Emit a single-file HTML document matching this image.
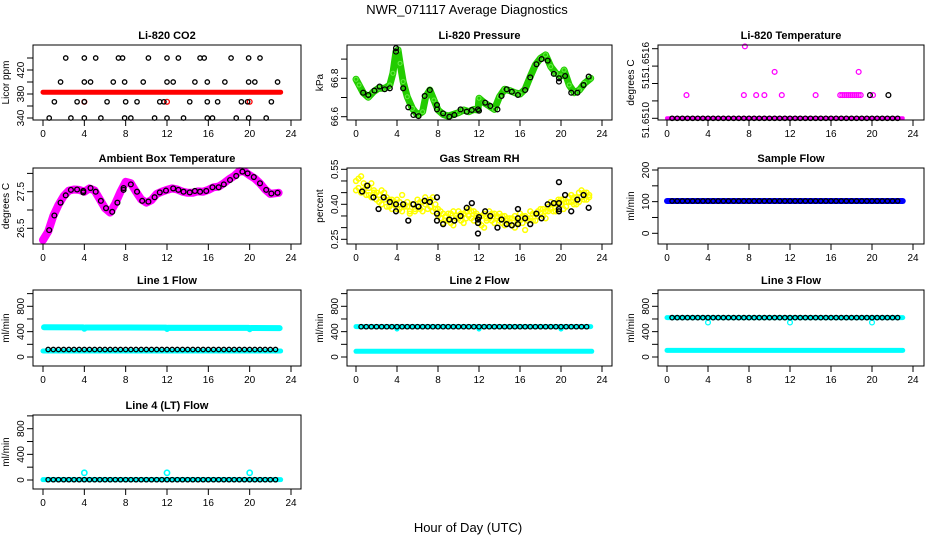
<!DOCTYPE html>
<html><head><meta charset="utf-8"><style>
html,body{margin:0;padding:0;background:#fff;}
svg{display:block;font-family:"Liberation Sans",sans-serif;}
</style></head><body>
<svg id="chart" width="936" height="540" viewBox="0 0 936 540" xmlns="http://www.w3.org/2000/svg">
<rect width="936" height="540" fill="#fff"/>
<text x="467" y="14" font-size="13" text-anchor="middle">NWR_071117  Average Diagnostics</text>
<text x="468" y="532" font-size="13" text-anchor="middle">Hour of Day (UTC)</text>
</svg>
<script>
// ---- data ----
const xTicks = [0,4,8,12,16,20,24];
const blackHours = [0.5,1,1.5,2,2.5,3,3.5,4,4.5,5,5.5,6,6.5,7,7.5,8,8.5,9,9.5,10,10.5,11,11.5,12,12.5,13,13.5,14,14.5,15,15.5,16,16.5,17,17.5,18,18.5,19,19.5,20,20.5,21,21.5,22,22.5];

// CO2
const co2BandHours = [0,23];
const co2BandVals = [383,383];
const co2RedHours = [4,12,20];
const co2RedVals = [367,367,367];
const co2BlackHours = [2.2,4,5.1,7.3,7.7,10.2,12,13.1,15.2,15.6,18.2,19.9,21, 1.7,4,4.6,6.8,7.9,9.7,12,12.6,14.7,15.9,17.6,19.9,20.5,22.7, 1.1,3.3,4,6.2,8,9.1,11.3,11.7,14.2,15.9,16.9,19.2,19.8,22.1, 0.6,2.7,4,5.6,7.9,8.5,10.8,12,13.6,15.9,16.4,18.7,19.9,21.6];
const co2BlackVals = [440,440,440,440,440,440,440,440,440,440,440,440,440, 400,400,400,400,400,400,400,400,400,400,400,400,400,400, 367,367,367,367,367,367,367,367,367,367,367,367,367,367, 340,340,340,340,340,340,340,340,340,340,340,340,340,340];

// Pressure
const presHours = [0,0.3,0.7,1.2,1.7,2.2,2.8,3.3,3.6,3.9,4.1,4.3,4.6,5.0,5.5,6.0,6.5,6.8,7.2,7.6,8.0,8.5,9.0,10,10.5,11,11.5,11.9,12,12.5,13,13.5,14,14.5,15,15.5,16,16.5,17,17.5,18,18.5,19,19.5,20,20.3,20.8,21.3,21.8,22.3,22.9];
const presVals = [66.795,66.765,66.725,66.701,66.730,66.748,66.748,66.765,66.826,66.939,66.948,66.878,66.783,66.704,66.643,66.609,66.626,66.704,66.739,66.687,66.635,66.612,66.603,66.621,66.635,66.626,66.638,66.635,66.696,66.673,66.656,66.638,66.704,66.743,66.736,66.725,66.718,66.743,66.809,66.870,66.904,66.922,66.861,66.826,66.812,66.843,66.765,66.725,66.739,66.774,66.800];
const presBlackHours = [0.7,1.2,1.8,2.3,2.8,3.3,3.9,3.9,4.6,5.1,5.6,6.1,6.7,7.2,7.9,7.9,8.5,9.1,9.6,10.2,10.8,11.3,11.9,12,12.6,13.1,13.8,14.2,14.7,15.2,15.8,16.5,17,17.6,18.1,18.7,19.3,19.8,19.8,20.4,21,21.6,22.2,22.7];
const presBlackVals = [66.725,66.713,66.736,66.757,66.743,66.748,66.939,66.957,66.748,66.649,66.609,66.603,66.708,66.739,66.661,66.638,66.617,66.600,66.609,66.638,66.626,66.635,66.638,66.631,66.673,66.656,66.638,66.708,66.743,66.730,66.713,66.739,66.805,66.873,66.900,66.892,66.823,66.800,66.783,66.812,66.725,66.725,66.765,66.809];

// Li-820 temperature
const tempBandHours = [0,23];
const tempBandVals = [51.6510,51.6510];
const tempMagHours = [1.9,7.5,8.7,9.5,11.2,14.5,16.9,17.1,17.3,17.5,17.7,17.9,18.1,18.3,18.5,18.7,18.9,20.1,10.5,18.7,7.6];
const tempMagVals = [51.6512,51.6512,51.6512,51.6512,51.6512,51.6512,51.6512,51.6512,51.6512,51.6512,51.6512,51.6512,51.6512,51.6512,51.6512,51.6512,51.6512,51.6512,51.6514,51.6514,51.65162];
const tempBlackExtraHours = [19.8,21.6];
const tempBlackExtraVals = [51.6512,51.6512];
const tempBlackVals = blackHours.map(()=>51.6510);

// Ambient box temperature
const ambHours = [0,0.5,1,1.5,2,2.5,3,3.5,4,4.5,5,5.5,6,6.5,7,7.5,8,8.5,9,9.5,10,10.5,11,11.5,12,12.5,13,13.5,14,14.5,15,15.5,16,16.5,17,17.5,18,18.5,19,19.5,20,20.5,21,21.5,22,22.8];
const ambVals = [26.18,26.41,26.84,27.14,27.38,27.53,27.56,27.55,27.50,27.59,27.53,27.29,27.05,26.93,27.18,27.50,27.77,27.73,27.50,27.29,27.20,27.27,27.44,27.50,27.55,27.59,27.56,27.50,27.47,27.47,27.51,27.50,27.55,27.62,27.64,27.73,27.84,27.93,28.06,28.05,27.95,27.86,27.73,27.56,27.44,27.47];
const ambBlackHours = [0.6,1.1,1.7,2.2,2.7,3.3,3.9,3.9,4.6,5.1,5.6,6.1,6.7,7.2,7.8,7.8,8.5,9.1,9.6,10.2,10.8,11.3,11.9,12.6,13.1,13.6,14.2,14.7,15.2,15.8,16.4,17,17.5,18.1,18.7,19.3,19.8,20.4,21,21.6,22.1,22.7];
const ambBlackVals = [26.45,26.85,27.2,27.4,27.55,27.56,27.52,27.48,27.6,27.5,27.25,27.05,26.95,27.2,27.6,27.55,27.7,27.5,27.25,27.23,27.35,27.48,27.53,27.59,27.55,27.5,27.48,27.52,27.5,27.52,27.62,27.62,27.7,27.82,27.93,28.05,28.0,27.9,27.73,27.55,27.45,27.47];

// Gas stream RH
const rhHours = [0,.25,.5,.75,1,1.25,1.5,1.75,2,2.25,2.5,2.75,3,3.25,3.5,3.75,4,4.25,4.5,4.75,5,5.25,5.5,5.75,6,6.25,6.5,6.75,7,7.25,7.5,7.75,8,8.25,8.5,8.75,9,9.25,9.5,9.75,10,10.25,10.5,10.75,11,11.25,11.5,11.75,12,12.25,12.5,12.75,13,13.25,13.5,13.75,14,14.25,14.5,14.75,15,15.25,15.5,15.75,16,16.25,16.5,16.75,17,17.25,17.5,17.75,18,18.25,18.5,18.75,19,19.25,19.5,19.75,20,20.25,20.5,20.75,21,21.25,21.5,21.75,22,22.25,22.5,22.75];
const rhValsA = [.50,.47,.52,.46,.48,.44,.49,.45,.45,.41,.46,.42,.43,.39,.42,.40,.42,.38,.44,.39,.41,.37,.40,.38,.42,.38,.41,.43,.41,.39,.43,.38,.38,.34,.36,.33,.36,.32,.37,.34,.37,.33,.36,.34,.38,.34,.37,.35,.35,.31,.36,.33,.37,.33,.36,.34,.36,.32,.35,.33,.34,.31,.35,.32,.36,.32,.35,.33,.37,.33,.36,.35,.38,.35,.37,.39,.41,.37,.40,.42,.42,.38,.41,.43,.44,.40,.43,.41,.46,.42,.45,.43];
const rhValsB = [.46,.51,.45,.49,.44,.47,.43,.46,.42,.44,.40,.45,.39,.42,.38,.41,.38,.41,.37,.40,.39,.36,.40,.37,.39,.41,.37,.40,.38,.42,.37,.40,.35,.37,.32,.35,.33,.36,.31,.35,.34,.36,.32,.37,.35,.37,.33,.36,.32,.35,.30,.34,.34,.36,.32,.35,.33,.35,.31,.34,.32,.34,.30,.33,.33,.35,.29,.34,.34,.36,.33,.37,.36,.38,.34,.37,.38,.40,.37,.41,.40,.42,.39,.41,.41,.43,.40,.45,.43,.45,.42,.44];
const rhBlackHours = [0.6,1.1,1.7,2.2,2.7,3.3,3.9,3.9,4.6,5.1,5.6,6.1,6.7,7.2,7.9,7.9,7.9,8.5,9.1,9.6,10.2,10.8,11.3,11.9,11.9,11.9,12.0,12.6,13.1,13.8,14.2,14.7,15.2,15.8,15.8,15.8,16.5,17,17.6,18.1,18.7,19.3,19.8,19.8,19.8,19.8,20.4,21,21.6,22.2,22.7];
const rhBlackVals = [.455,.48,.43,.38,.43,.41,.37,.40,.40,.33,.40,.39,.415,.41,.43,.36,.33,.315,.335,.33,.35,.385,.405,.335,.32,.275,.345,.37,.35,.30,.335,.315,.31,.38,.34,.315,.34,.315,.36,.34,.40,.405,.38,.37,.405,.495,.44,.37,.42,.44,.385];

// Sample flow
const sampBandHours = [0,23];
const sampBandVals = [102,102];
const sampBlackVals = blackHours.map(()=>102);

// Line flows
const l1UpperHours = [0.1,3.9,4,4.1,11.9,12,12.1,19.9,20,20.1,22.9];
const l1UpperVals = [470,468,445,466,464,442,462,460,438,458,456];
const l1LowerHours = [0,23];
const l1LowerVals = [95,95];
const l1BlackVals = blackHours.map(()=>118);

const l2UpperHours = [0,3.9,4,4.1,11.9,12,12.1,19.9,20,20.1,22.9];
const l2UpperVals = [480,480,440,480,480,440,480,480,440,480,480];
const l2LowerHours = [0,23];
const l2LowerVals = [90,90];
const l2BlackVals = blackHours.map(()=>478);

const l3UpperHours = [0,23];
const l3UpperVals = [621,621];
const l3DipHours = [4,12,20];
const l3DipVals = [545,545,545];
const l3LowerHours = [0,23];
const l3LowerVals = [105,105];
const l3BlackVals = blackHours.map(()=>621);

const l4BandHours = [0,23];
const l4BandVals = [5,5];
const l4SpikeHours = [4,12,20];
const l4SpikeVals = [112,112,112];
const l4BlackVals = blackHours.map(()=>5);

// ---- layout ----
const colX0 = [43,356,667], colX24 = [291,602,913];
const colBoxL = [33,347,658], colBoxR = [301,612,924];
const rowTop = [45,168,290,415], rowBot = [120,244,366,489];

const svg = document.getElementById('chart');
const NS = 'http://www.w3.org/2000/svg';
function mk(tag, attrs, parent){
  const e = document.createElementNS(NS, tag);
  for (const k in attrs) e.setAttribute(k, attrs[k]);
  (parent||svg).appendChild(e);
  return e;
}

function panel(cfg){
  const g = mk('g', {});
  
  
  const c = cfg.col, r = cfg.row;
  const L = colBoxL[c], R = colBoxR[c], T = rowTop[r], B = rowBot[r];
  const sx = h => colX0[c] + (colX24[c]-colX0[c]) * h / 24;
  const sy = v => cfg.p0 + (cfg.p1 - cfg.p0) * (v - cfg.v0) / (cfg.v1 - cfg.v0);
  cfg.sx = sx; cfg.sy = sy; cfg.g = g;
  // marks
  cfg.draw(cfg);
  // box
  const box = mk('rect', {x:L, y:T, width:R-L, height:B-T, fill:'none', stroke:'#000', 'stroke-width':1}, g);
  
  
  // title
  const t = mk('text', {x:(L+R)/2, y:T-6, 'font-size':11, 'font-weight':'bold', 'text-anchor':'middle'}, g);
  t.textContent = cfg.title;
  
  
  // x axis
  const xa = mk('g', {}, g);
  
  
  mk('line', {x1:sx(0), x2:sx(24), y1:B, y2:B, stroke:'#000'}, xa);
  xTicks.forEach(h => {
    mk('line', {x1:sx(h), x2:sx(h), y1:B, y2:B+6, stroke:'#000'}, xa);
    const lt = mk('text', {x:sx(h), y:B+17, 'font-size':10, 'text-anchor':'middle'}, xa);
    lt.textContent = h;
    
    
  });
  // y axis
  const ya = mk('g', {}, g);
  
  
  mk('line', {x1:L, x2:L, y1:sy(cfg.yTicks[0]), y2:sy(cfg.yTicks[cfg.yTicks.length-1]), stroke:'#000'}, ya);
  cfg.yTicks.forEach(v => mk('line', {x1:L-6, x2:L, y1:sy(v), y2:sy(v), stroke:'#000'}, ya));
  cfg.yLabels.forEach((lab, i) => {
    const y = cfg.yLabelPos ? cfg.yLabelPos[i] : sy(cfg.yLabelVals[i]);
    const lt = mk('text', {x:L-9, y:y, 'font-size':10, 'text-anchor':'middle', transform:`rotate(-90 ${L-9} ${y})`}, ya);
    lt.textContent = lab;
    
    
  });
  const yt = mk('text', {x:L-24, y:(T+B)/2, 'font-size':10, 'text-anchor':'middle', transform:`rotate(-90 ${L-24} ${(T+B)/2})`}, g);
  yt.textContent = cfg.ytitle;
  
  
}

function band(cfg, hs, vs, color, w, name){
  const pts = hs.map((h,i) => cfg.sx(h)+','+cfg.sy(vs[i])).join(' ');
  const p = mk('polyline', {points:pts, fill:'none', stroke:color, 'stroke-width':w, 'stroke-linecap':'round', 'stroke-linejoin':'round'}, cfg.g);
  
  
}
function pts(cfg, hs, vs, color, name, r, sw){
  const g = mk('g', {}, cfg.g);
  
  
  hs.forEach((h,i) => {
    const c = mk('circle', {cx:cfg.sx(h), cy:cfg.sy(vs[i]), r:r||2.4, fill:'none', stroke:color, 'stroke-width':sw||1.3}, g);
    
    
  });
}

const flowTicks = [0,200,400,600,800,1000];

panel({name:'co2-panel', col:0,row:0,title:'Li-820 CO2',ytitle:'Licor ppm', v0:340,p0:118,v1:380,p1:94,
  yTicks:[340,360,380,400,420,440], yLabels:['340','380','420'], yLabelVals:[340,380,420],
  draw:c=>{ band(c,co2BandHours,co2BandVals,'#ff0000',5,'co2-red-band'); pts(c,co2RedHours,co2RedVals,'#ff0000','co2-red-points');
    pts(c,co2BlackHours,co2BlackVals,'#000','co2-black-points',2.2); }});

panel({name:'pressure-panel', col:1,row:0,title:'Li-820 Pressure',ytitle:'kPa', v0:66.6,p0:116.7,v1:66.8,p1:78.3,
  yTicks:[66.6,66.7,66.8,66.9], yLabels:['66.6','66.8'], yLabelVals:[66.6,66.8],
  draw:c=>{ band(c,presHours,presVals,'#22cc00',7,'pressure-green-band'); pts(c,presHours,presVals,'#66ee44','pressure-green-points',2,1);
    pts(c,presBlackHours,presBlackVals,'#000','pressure-black-points'); }});

panel({name:'li820-temp-panel', col:2,row:0,title:'Li-820 Temperature',ytitle:'degrees C', v0:51.6510,p0:118.3,v1:51.6516,p1:48.7,
  yTicks:[51.6510,51.65115,51.6513,51.65145,51.6516], yLabels:['51.6510','51.','51.6516'], yLabelPos:[120,82,60],
  draw:c=>{ band(c,tempBandHours,tempBandVals,'#ff00ff',4,'temp-magenta-band'); pts(c,tempMagHours,tempMagVals,'#ff00ff','temp-magenta-points');
    pts(c,blackHours,tempBlackVals,'#000','temp-black-points',2.2); pts(c,tempBlackExtraHours,tempBlackExtraVals,'#000','temp-black-extra'); }});

panel({name:'ambient-temp-panel', col:0,row:1,title:'Ambient Box Temperature',ytitle:'degrees C', v0:26.5,p0:228.3,v1:27.5,p1:191.7,
  yTicks:[26.5,27,27.5,28], yLabels:['26.5','27.5'], yLabelVals:[26.5,27.5],
  draw:c=>{ band(c,ambHours,ambVals,'#ff00ff',8,'ambient-magenta-band'); pts(c,ambBlackHours,ambBlackVals,'#000','ambient-black-points'); }});

panel({name:'rh-panel', col:1,row:1,title:'Gas Stream RH',ytitle:'percent', v0:0.25,p0:239.3,v1:0.40,p1:204.3,
  yTicks:[0.25,0.30,0.35,0.40,0.45,0.50,0.55], yLabels:['0.25','0.40','0.55'], yLabelVals:[0.25,0.40,0.55],
  draw:c=>{ pts(c,rhHours,rhValsA,'#ffff00','rh-yellow-a',2.4,1.5); pts(c,rhHours,rhValsB,'#ffff00','rh-yellow-b',2.4,1.5);
    pts(c,rhBlackHours,rhBlackVals,'#000','rh-black-points',2.4,1.5); }});

panel({name:'sample-flow-panel', col:2,row:1,title:'Sample Flow',ytitle:'ml/min', v0:0,p0:233.3,v1:200,p1:170,
  yTicks:[0,50,100,150,200], yLabels:['0','100','200'], yLabelVals:[0,100,200],
  draw:c=>{ band(c,sampBandHours,sampBandVals,'#0000ff',6,'sample-blue-band'); pts(c,blackHours,sampBlackVals,'#000','sample-black-points',2.2); }});

panel({name:'line1-flow-panel', col:0,row:2,title:'Line 1 Flow',ytitle:'ml/min', v0:0,p0:357,v1:800,p1:306.3,
  yTicks:flowTicks, yLabels:['0','400','800'], yLabelVals:[0,400,800],
  draw:c=>{ band(c,l1UpperHours,l1UpperVals,'#00ffff',6,'line1-upper-band'); band(c,l1LowerHours,l1LowerVals,'#00ffff',5,'line1-lower-band');
    pts(c,blackHours,l1BlackVals,'#000','line1-black-points',2.2); }});

panel({name:'line2-flow-panel', col:1,row:2,title:'Line 2 Flow',ytitle:'ml/min', v0:0,p0:357,v1:800,p1:306.3,
  yTicks:flowTicks, yLabels:['0','400','800'], yLabelVals:[0,400,800],
  draw:c=>{ band(c,l2UpperHours,l2UpperVals,'#00ffff',5,'line2-upper-band'); band(c,l2LowerHours,l2LowerVals,'#00ffff',5,'line2-lower-band');
    pts(c,blackHours,l2BlackVals,'#000','line2-black-points',2.2); }});

panel({name:'line3-flow-panel', col:2,row:2,title:'Line 3 Flow',ytitle:'ml/min', v0:0,p0:357,v1:800,p1:306.3,
  yTicks:flowTicks, yLabels:['0','400','800'], yLabelVals:[0,400,800],
  draw:c=>{ band(c,l3UpperHours,l3UpperVals,'#00ffff',5,'line3-upper-band'); pts(c,l3DipHours,l3DipVals,'#00ffff','line3-dip-points');
    band(c,l3LowerHours,l3LowerVals,'#00ffff',5,'line3-lower-band'); pts(c,blackHours,l3BlackVals,'#000','line3-black-points',2.2); }});

panel({name:'line4-flow-panel', col:0,row:3,title:'Line 4 (LT) Flow',ytitle:'ml/min', v0:0,p0:480,v1:800,p1:428.7,
  yTicks:flowTicks, yLabels:['0','400','800'], yLabelVals:[0,400,800],
  draw:c=>{ band(c,l4BandHours,l4BandVals,'#00ffff',5,'line4-band'); pts(c,l4SpikeHours,l4SpikeVals,'#00ffff','line4-spike-points',2.6,1.6);
    pts(c,blackHours,l4BlackVals,'#000','line4-black-points',2.2); }});
</script>
</body></html>
